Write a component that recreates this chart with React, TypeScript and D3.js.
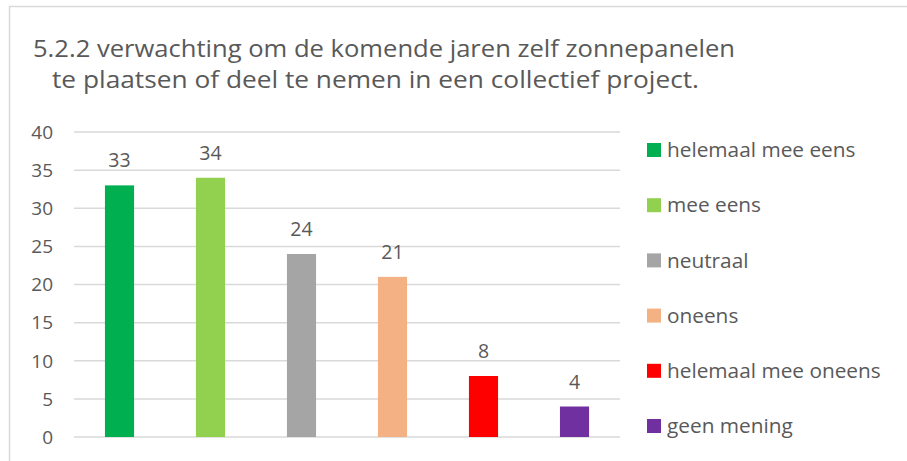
import React from "react";
import * as d3 from "d3";

const categories = ["helemaal mee eens", "mee eens", "neutraal", "oneens", "helemaal mee oneens", "geen mening"];
const values = [33, 34, 24, 21, 8, 4];
const colors = ["#00b050", "#92d050", "#a5a5a5", "#f4b183", "#ff0000", "#7030a0"];
const yTicks = [0, 5, 10, 15, 20, 25, 30, 35, 40];
const titleLines = [
  "5.2.2 verwachting om de komende jaren zelf zonnepanelen",
  "te plaatsen of deel te nemen in een collectief project.",
];

const W = 907;
const H = 461;
const FONT = "'Open Sans', sans-serif";
const TEXT = "#595959";

export default function App() {
  const plotLeft = 74;
  const plotRight = 620;
  const plotTop = 132;
  const plotBottom = 437;
  const x = d3.scaleBand<string>().domain(categories).range([plotLeft, plotRight]).paddingInner(0.68).paddingOuter(0.34);
  const y = d3.scaleLinear().domain([0, 40]).range([plotBottom, plotTop]);

  return (
    <svg width={W} height={H} style={{ position: "absolute", left: 0, top: 0, background: "#fff" }}>
      <rect x={0} y={0} width={W} height={H} fill="#fff" />
      <path d={`M9.5,${H + 2} V6.5 H${W + 2}`} fill="none" stroke="#d9d9d9" strokeWidth={1.5} />
      <g fontFamily={FONT} fill={TEXT} fontSize={24.5}>
        <text x={33} y={57} textLength={702} lengthAdjust="spacingAndGlyphs">{titleLines[0]}</text>
        <text x={52} y={88} textLength={647} lengthAdjust="spacingAndGlyphs">{titleLines[1]}</text>
      </g>
      {yTicks.map((t) => (
        <g key={t}>
          <line x1={plotLeft} x2={plotRight} y1={y(t)} y2={y(t)} stroke="#d9d9d9" strokeWidth={1.5} />
          <text x={53} y={y(t)} dy="0.36em" textAnchor="end" fontFamily={FONT} fontSize={19} fill={TEXT}>{t}</text>
        </g>
      ))}
      {categories.map((c, i) => (
        <g key={c}>
          <rect x={x(c)} y={y(values[i])} width={x.bandwidth()} height={plotBottom - y(values[i])} fill={colors[i]} />
          <text x={(x(c) as number) + x.bandwidth() / 2} y={y(values[i]) - 18} textAnchor="middle" fontFamily={FONT} fontSize={19.5} fill={TEXT}>{values[i]}</text>
        </g>
      ))}
      {categories.map((c, i) => {
        const cy = 150 + i * 55.2;
        return (
          <g key={"l" + c}>
            <rect x={647} y={cy - 7} width={14} height={14} fill={colors[i]} />
            <text x={667} y={cy} dy="0.35em" fontFamily={FONT} fontSize={20.8} fill={TEXT}>{c}</text>
          </g>
        );
      })}
    </svg>
  );
}
